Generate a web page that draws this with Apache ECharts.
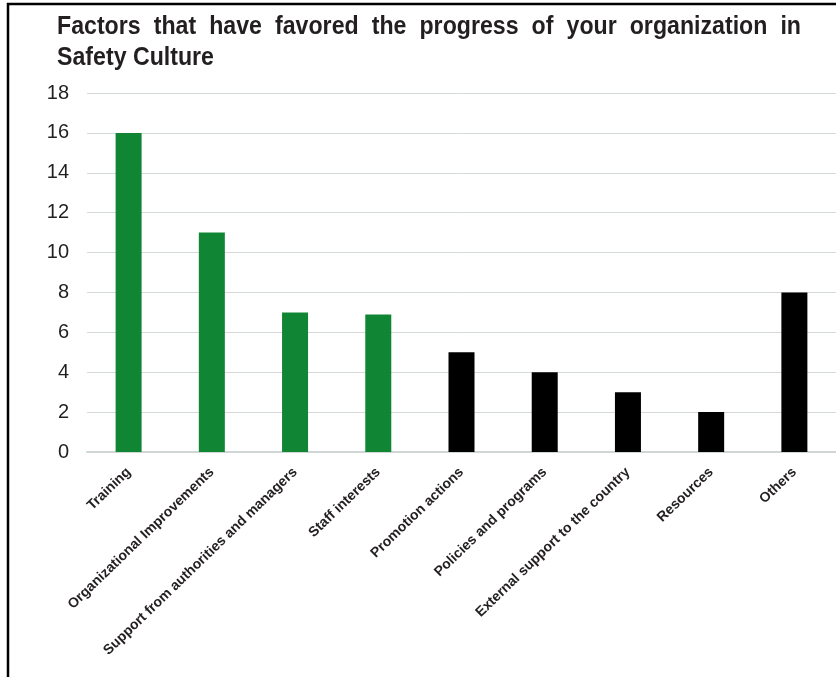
<!DOCTYPE html>
<html><head><meta charset="utf-8">
<script src="https://cdn.jsdelivr.net/npm/echarts@6/dist/echarts.min.js"></script>
<style>html,body{margin:0;padding:0;background:#fff}#c{width:836px;height:677px}</style>
</head><body><div id="c"></div>
<script>
const categories = ["Training","Organizational Improvements","Support from authorities and managers","Staff interests","Promotion actions","Policies and programs","External support to the country","Resources","Others"];
const values = [16, 11, 7, 6.9, 5, 4, 3, 2, 8];
const barColors = ["#108533","#108533","#108533","#108533","#000000","#000000","#000000","#000000","#000000"];
const yTicks = {min:0, max:18, interval:2};
const titleLines = ["Factors that have favored the progress of your organization in", "Safety Culture"];

// title layout (justified first line, condensed font)
const TFONT = 'bold 26px "Liberation Sans", Arial, sans-serif';
const ctx = document.createElement('canvas').getContext('2d');
ctx.font = TFONT;
const tLeft = 57, tRight = 801;
const sx = 157 / ctx.measureText(titleLines[1]).width;
const graphics = [];
function addWordsJustified(line, midY, justify){
  const words = line.split(' ');
  const widths = words.map(w => ctx.measureText(w).width * sx);
  const total = widths.reduce((a,b)=>a+b,0);
  const gap = justify ? (tRight - tLeft - total)/(words.length-1) : ctx.measureText(' ').width*sx;
  let x = tLeft;
  words.forEach((w,i)=>{
    graphics.push({type:'text', x:x, y:midY, scaleX:sx, scaleY:1, z:50,
      style:{text:w, font:TFONT, fill:'#231f20', verticalAlign:'middle', textVerticalAlign:'middle'}});
    x += widths[i] + gap;
  });
}
addWordsJustified(titleLines[0], 27, true);
addWordsJustified(titleLines[1], 58, false);
graphics.push({type:'rect', shape:{x:8,y:4,width:1000,height:900}, style:{fill:'none', stroke:'#000', lineWidth:2.5}, z:100});

const chart = echarts.init(document.getElementById('c'));
chart.setOption({
  animation:false,
  backgroundColor:'#fff',
  graphic: graphics,
  grid:{left:87, width:761, top:93, bottom:225, containLabel:false},
  xAxis:{type:'category', data:categories,
    axisLine:{show:true, lineStyle:{color:'#d0d6d5', width:2}}, axisTick:{show:false},
    axisLabel:{interval:0, rotate:44, fontFamily:'Liberation Sans, Arial', fontWeight:'bold', fontSize:14, color:'#231f20', margin:18}},
  yAxis:{type:'value', min:yTicks.min, max:yTicks.max, interval:yTicks.interval,
    axisLine:{show:false}, axisTick:{show:false},
    splitLine:{lineStyle:{color:'#d3dad8', width:1}},
    axisLabel:{fontFamily:'Liberation Sans, Arial', fontSize:20, color:'#231f20', margin:18}},
  series:[{type:'bar', barWidth:26,
    data: values.map((v,i)=>({value:v, itemStyle:{color:barColors[i]}}))}]
});
</script></body></html>
